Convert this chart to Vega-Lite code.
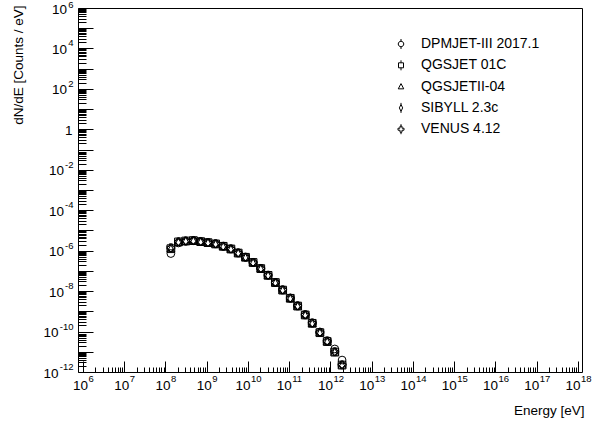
{
  "$schema": "https://vega.github.io/schema/vega-lite/v6.json",
  "width": 504,
  "height": 364,
  "autosize": "none",
  "padding": {"left": 78, "top": 8, "right": 25, "bottom": 52},
  "background": "white",
  "config": {
    "font": "Liberation Sans",
    "view": {"stroke": "black", "strokeWidth": 1},
    "axis": {
      "domain": false,
      "grid": false,
      "tickColor": "black",
      "tickWidth": 1,
      "labelColor": "black",
      "titleColor": "black",
      "labelFont": "Liberation Sans",
      "titleFont": "Liberation Sans",
      "labelFontSize": 13,
      "titleFontSize": 13.5,
      "titleFontWeight": "normal",
      "labelOverlap": false,
      "labelFlush": false,
      "labelBound": false
    }
  },
  "datasets": {
    "d": [
      {"E": 1.35e8, "DPMJET": 7.2e-7, "QGSJET01C": 1.25e-6, "QGSJETII": 1.3e-6, "SIBYLL": 1.35e-6, "VENUS": 1.4e-6},
      {"E": 2.06e8, "DPMJET": 2.4e-6, "QGSJET01C": 2.7e-6, "QGSJETII": 2.75e-6, "SIBYLL": 2.8e-6, "VENUS": 2.75e-6},
      {"E": 3.10e8, "DPMJET": 2.9e-6, "QGSJET01C": 3.0e-6, "QGSJETII": 3.1e-6, "SIBYLL": 3.05e-6, "VENUS": 3.05e-6},
      {"E": 4.74e8, "DPMJET": 3.1e-6, "QGSJET01C": 3.15e-6, "QGSJETII": 3.2e-6, "SIBYLL": 3.2e-6, "VENUS": 3.15e-6},
      {"E": 7.13e8, "DPMJET": 2.8e-6, "QGSJET01C": 2.8e-6, "QGSJETII": 2.85e-6, "SIBYLL": 2.85e-6, "VENUS": 2.8e-6},
      {"E": 1.07e9, "DPMJET": 2.5e-6, "QGSJET01C": 2.5e-6, "QGSJETII": 2.55e-6, "SIBYLL": 2.5e-6, "VENUS": 2.5e-6},
      {"E": 1.64e9, "DPMJET": 2.2e-6, "QGSJET01C": 2.15e-6, "QGSJETII": 2.2e-6, "SIBYLL": 2.2e-6, "VENUS": 2.2e-6},
      {"E": 2.51e9, "DPMJET": 1.68e-6, "QGSJET01C": 1.64e-6, "QGSJETII": 1.66e-6, "SIBYLL": 1.67e-6, "VENUS": 1.65e-6},
      {"E": 3.85e9, "DPMJET": 1.24e-6, "QGSJET01C": 1.21e-6, "QGSJETII": 1.23e-6, "SIBYLL": 1.24e-6, "VENUS": 1.22e-6},
      {"E": 5.79e9, "DPMJET": 7.9e-7, "QGSJET01C": 7.6e-7, "QGSJETII": 7.8e-7, "SIBYLL": 7.8e-7, "VENUS": 7.7e-7},
      {"E": 8.71e9, "DPMJET": 4.8e-7, "QGSJET01C": 4.7e-7, "QGSJETII": 4.8e-7, "SIBYLL": 4.85e-7, "VENUS": 4.75e-7},
      {"E": 1.33e10, "DPMJET": 2.65e-7, "QGSJET01C": 2.6e-7, "QGSJETII": 2.62e-7, "SIBYLL": 2.65e-7, "VENUS": 2.6e-7},
      {"E": 2.04e10, "DPMJET": 1.33e-7, "QGSJET01C": 1.3e-7, "QGSJETII": 1.32e-7, "SIBYLL": 1.33e-7, "VENUS": 1.31e-7},
      {"E": 3.07e10, "DPMJET": 6.2e-8, "QGSJET01C": 6.0e-8, "QGSJETII": 6.2e-8, "SIBYLL": 6.2e-8, "VENUS": 6.1e-8},
      {"E": 4.61e10, "DPMJET": 2.7e-8, "QGSJET01C": 2.65e-8, "QGSJETII": 2.7e-8, "SIBYLL": 2.7e-8, "VENUS": 2.68e-8},
      {"E": 6.93e10, "DPMJET": 1.17e-8, "QGSJET01C": 1.12e-8, "QGSJETII": 1.15e-8, "SIBYLL": 1.16e-8, "VENUS": 1.14e-8},
      {"E": 1.06e11, "DPMJET": 4.6e-9, "QGSJET01C": 4.4e-9, "QGSJETII": 4.5e-9, "SIBYLL": 4.5e-9, "VENUS": 4.45e-9},
      {"E": 1.60e11, "DPMJET": 1.9e-9, "QGSJET01C": 1.82e-9, "QGSJETII": 1.86e-9, "SIBYLL": 1.88e-9, "VENUS": 1.85e-9},
      {"E": 2.44e11, "DPMJET": 7.0e-10, "QGSJET01C": 6.6e-10, "QGSJETII": 6.8e-10, "SIBYLL": 6.8e-10, "VENUS": 6.7e-10},
      {"E": 3.61e11, "DPMJET": 2.75e-10, "QGSJET01C": 2.55e-10, "QGSJETII": 2.6e-10, "SIBYLL": 2.65e-10, "VENUS": 2.6e-10},
      {"E": 5.53e11, "DPMJET": 9.6e-11, "QGSJET01C": 8.8e-11, "QGSJETII": 9.1e-11, "SIBYLL": 9.2e-11, "VENUS": 9.0e-11},
      {"E": 8.32e11, "DPMJET": 3.6e-11, "QGSJET01C": 3.2e-11, "QGSJETII": 3.3e-11, "SIBYLL": 3.35e-11, "VENUS": 3.25e-11},
      {"E": 1.27e12, "DPMJET": 1.38e-11, "QGSJET01C": 9.6e-12, "QGSJETII": 1.0e-11, "SIBYLL": 1.02e-11, "VENUS": 1.0e-11},
      {"E": 1.91e12, "DPMJET": 3.9e-12, "QGSJET01C": 2.2e-12, "QGSJETII": 2.3e-12, "SIBYLL": 2.35e-12, "VENUS": 2.25e-12}
    ]
  },
  "layer": [
    {
      "data": {"name": "d"},
      "transform": [{"fold": ["DPMJET", "QGSJET01C", "QGSJETII", "SIBYLL", "VENUS"], "as": ["model", "v"]}],
      "mark": {"type": "point", "filled": false, "color": "black", "strokeWidth": 1, "size": 60, "opacity": 1},
      "encoding": {
        "x": {
          "field": "E", "type": "quantitative",
          "scale": {"type": "log", "domain": [7.57e5, 1.25e18], "nice": false, "zero": false},
          "axis": {
            "orient": "bottom",
            "values": [1e6, 1e7, 1e8, 1e9, 1e10, 1e11, 1e12, 1e13, 1e14, 1e15, 1e16, 1e17, 1e18],
            "tickSize": -11,
            "labels": false,
            "title": "Energy [eV]",
            "titleX": 506,
            "titleY": 38,
            "titleAlign": "right",
            "titleBaseline": "middle",
            "titleAngle": 0
          }
        },
        "y": {
          "field": "v", "type": "quantitative",
          "scale": {"type": "log", "domain": [1e-12, 1e6], "nice": false, "zero": false},
          "axis": {
            "orient": "left",
            "values": [1e-12, 1e-11, 1e-10, 1e-9, 1e-8, 1e-7, 1e-6, 1e-5, 1e-4, 1e-3, 1e-2, 1e-1, 1, 10, 100, 1000, 1e4, 1e5, 1e6],
            "tickSize": -15,
            "labels": false,
            "title": "dN/dE [Counts / eV]",
            "titleX": -60,
            "titleY": -3,
            "titleAlign": "right",
            "titleBaseline": "middle",
            "titleAngle": -90
          }
        },
        "shape": {
          "field": "model", "type": "nominal",
          "scale": {"domain": ["DPMJET", "QGSJET01C", "QGSJETII", "SIBYLL", "VENUS"], "range": ["circle", "square", "triangle-up", "diamond", "cross"]},
          "legend": null
        }
      }
    },
    {
      "data": {"name": "d"},
      "mark": {"type": "point", "opacity": 0},
      "encoding": {
        "x": {
          "field": "E", "type": "quantitative",
          "scale": {"type": "log", "domain": [7.57e5, 1.25e18], "nice": false, "zero": false},
          "axis": {
            "orient": "bottom",
            "values": [2e6,3e6,4e6,5e6,6e6,7e6,8e6,9e6,2e7,3e7,4e7,5e7,6e7,7e7,8e7,9e7,2e8,3e8,4e8,5e8,6e8,7e8,8e8,9e8,2e9,3e9,4e9,5e9,6e9,7e9,8e9,9e9,2e10,3e10,4e10,5e10,6e10,7e10,8e10,9e10,2e11,3e11,4e11,5e11,6e11,7e11,8e11,9e11,2e12,3e12,4e12,5e12,6e12,7e12,8e12,9e12,2e13,3e13,4e13,5e13,6e13,7e13,8e13,9e13,2e14,3e14,4e14,5e14,6e14,7e14,8e14,9e14,2e15,3e15,4e15,5e15,6e15,7e15,8e15,9e15,2e16,3e16,4e16,5e16,6e16,7e16,8e16,9e16,2e17,3e17,4e17,5e17,6e17,7e17,8e17,9e17],
            "tickSize": -5,
            "labels": false,
            "title": null
          }
        },
        "y": {
          "field": "QGSJETII", "type": "quantitative",
          "scale": {"type": "log", "domain": [1e-12, 1e6], "nice": false, "zero": false},
          "axis": {
            "orient": "left",
            "values": [2e-12,3e-12,4e-12,5e-12,6e-12,7e-12,8e-12,9e-12,2e-11,3e-11,4e-11,5e-11,6e-11,7e-11,8e-11,9e-11,2e-10,3e-10,4e-10,5e-10,6e-10,7e-10,8e-10,9e-10,2e-9,3e-9,4e-9,5e-9,6e-9,7e-9,8e-9,9e-9,2e-8,3e-8,4e-8,5e-8,6e-8,7e-8,8e-8,9e-8,2e-7,3e-7,4e-7,5e-7,6e-7,7e-7,8e-7,9e-7,2e-6,3e-6,4e-6,5e-6,6e-6,7e-6,8e-6,9e-6,2e-5,3e-5,4e-5,5e-5,6e-5,7e-5,8e-5,9e-5,2e-4,3e-4,4e-4,5e-4,6e-4,7e-4,8e-4,9e-4,2e-3,3e-3,4e-3,5e-3,6e-3,7e-3,8e-3,9e-3,0.02,0.03,0.04,0.05,0.06,0.07,0.08,0.09,0.2,0.3,0.4,0.5,0.6,0.7,0.8,0.9,2,3,4,5,6,7,8,9,20,30,40,50,60,70,80,90,200,300,400,500,600,700,800,900,2000,3000,4000,5000,6000,7000,8000,9000,2e4,3e4,4e4,5e4,6e4,7e4,8e4,9e4,2e5,3e5,4e5,5e5,6e5,7e5,8e5,9e5],
            "tickSize": -8,
            "labels": false,
            "title": null
          }
        }
      }
    },
    {
      "data": {"name": "d"},
      "mark": {"type": "point", "opacity": 0},
      "encoding": {
        "x": {
          "field": "E", "type": "quantitative",
          "scale": {"type": "log", "domain": [7.57e5, 1.25e18], "nice": false, "zero": false},
          "axis": {
            "orient": "bottom",
            "values": [1e6, 1e7, 1e8, 1e9, 1e10, 1e11, 1e12, 1e13, 1e14, 1e15, 1e16, 1e17, 1e18],
            "ticks": false,
            "labelPadding": 6,
            "labelBaseline": "top",
            "labelAlign": "right",
            "labelFontSize": 13.5,
            "labelExpr": "'10'",
            "labelOffset": {"condition": {"test": "datum.value >= 5e9", "value": 2}, "value": 4.5},
            "title": null
          }
        },
        "y": {
          "field": "QGSJETII", "type": "quantitative",
          "scale": {"type": "log", "domain": [1e-12, 1e6], "nice": false, "zero": false},
          "axis": {
            "orient": "left",
            "values": [1e-12, 1e-10, 1e-8, 1e-6, 1e-4, 1e-2, 1, 100, 1e4, 1e6],
            "ticks": false,
            "labelBaseline": "middle",
            "labelAlign": "right",
            "labelFontSize": 13.5,
            "labelOffset": 1,
            "labelExpr": "datum.value == 1 ? '1' : '10'",
            "labelPadding": {"condition": [{"test": "datum.value == 1", "value": 6}, {"test": "datum.value > 1", "value": 11.5}, {"test": "datum.value > 5e-10", "value": 14.5}], "value": 20},
            "title": null
          }
        }
      }
    },
    {
      "data": {"name": "d"},
      "mark": {"type": "point", "opacity": 0},
      "encoding": {
        "x": {
          "field": "E", "type": "quantitative",
          "scale": {"type": "log", "domain": [7.57e5, 1.25e18], "nice": false, "zero": false},
          "axis": {
            "orient": "bottom",
            "values": [1e6, 1e7, 1e8, 1e9, 1e10, 1e11, 1e12, 1e13, 1e14, 1e15, 1e16, 1e17, 1e18],
            "ticks": false,
            "labelPadding": 1,
            "labelBaseline": "top",
            "labelAlign": "left",
            "labelFontSize": 9.5,
            "labelExpr": "'' + round(log(datum.value)/LN10)",
            "labelOffset": {"condition": {"test": "datum.value >= 5e9", "value": 2.5}, "value": 5},
            "title": null
          }
        },
        "y": {
          "field": "QGSJETII", "type": "quantitative",
          "scale": {"type": "log", "domain": [1e-12, 1e6], "nice": false, "zero": false},
          "axis": {
            "orient": "left",
            "values": [1e-12, 1e-10, 1e-8, 1e-6, 1e-4, 1e-2, 1, 100, 1e4, 1e6],
            "ticks": false,
            "labelBaseline": "middle",
            "labelAlign": "right",
            "labelFontSize": 9.5,
            "labelOffset": {"condition": {"test": "datum.value > 1e5", "value": -3.5}, "value": -5.5},
            "labelPadding": 5,
            "labelExpr": "datum.value == 1 ? '' : '' + round(log(datum.value)/LN10)",
            "title": null
          }
        }
      }
    },
    {
      "data": {"name": "d"},
      "transform": [{"fold": ["DPMJET", "QGSJET01C", "QGSJETII", "SIBYLL", "VENUS"], "as": ["model", "v"]}],
      "mark": {"type": "point", "filled": false, "color": "black", "opacity": 0},
      "encoding": {
        "x": {
          "field": "E", "type": "quantitative",
          "scale": {"type": "log", "domain": [7.57e5, 1.25e18], "nice": false, "zero": false},
          "axis": null
        },
        "y": {
          "field": "v", "type": "quantitative",
          "scale": {"type": "log", "domain": [1e-12, 1e6], "nice": false, "zero": false},
          "axis": null
        },
        "shape": {
          "field": "model", "type": "nominal",
          "scale": {
            "domain": ["DPMJET", "QGSJET01C", "QGSJETII", "SIBYLL", "VENUS"],
            "range": [
              "M0.55,0A0.55,0.55,0,1,1,-0.55,0A0.55,0.55,0,1,1,0.55,0ZM0,-1L0,-0.55M0,0.55L0,1",
              "M-0.5,-0.5L0.5,-0.5L0.5,0.5L-0.5,0.5ZM0,-1L0,-0.5M0,0.5L0,1",
              "M0,-0.6L0.55,0.45L-0.55,0.45Z",
              "M0,-0.7L0.33,0L0,0.7L-0.33,0ZM0,-1L0,-0.7M0,0.7L0,1",
              "M-0.2,-0.6L0.2,-0.6L0.2,-0.2L0.6,-0.2L0.6,0.2L0.2,0.2L0.2,0.6L-0.2,0.6L-0.2,0.2L-0.6,0.2L-0.6,-0.2L-0.2,-0.2ZM0,-1L0,-0.6M0,0.6L0,1"
            ]
          },
          "legend": {
            "title": null,
            "orient": "none",
            "legendX": 316,
            "legendY": 29,
            "padding": 0,
            "labelFontSize": 14,
            "labelFont": "Liberation Sans",
            "labelColor": "black",
            "labelOffset": 13,
            "symbolSize": 100,
            "rowPadding": 7.3,
            "symbolOpacity": 1,
            "symbolStrokeColor": "black",
            "symbolStrokeWidth": 1,
            "symbolFillColor": "transparent",
            "labelExpr": "datum.label == 'DPMJET' ? 'DPMJET-III 2017.1' : datum.label == 'QGSJET01C' ? 'QGSJET 01C' : datum.label == 'QGSJETII' ? 'QGSJETII-04' : datum.label == 'SIBYLL' ? 'SIBYLL 2.3c' : 'VENUS 4.12'"
          }
        }
      }
    }
  ],
  "resolve": {
    "axis": {"x": "independent", "y": "independent"},
    "scale": {"shape": "independent"},
    "legend": {"shape": "independent"}
  }
}
